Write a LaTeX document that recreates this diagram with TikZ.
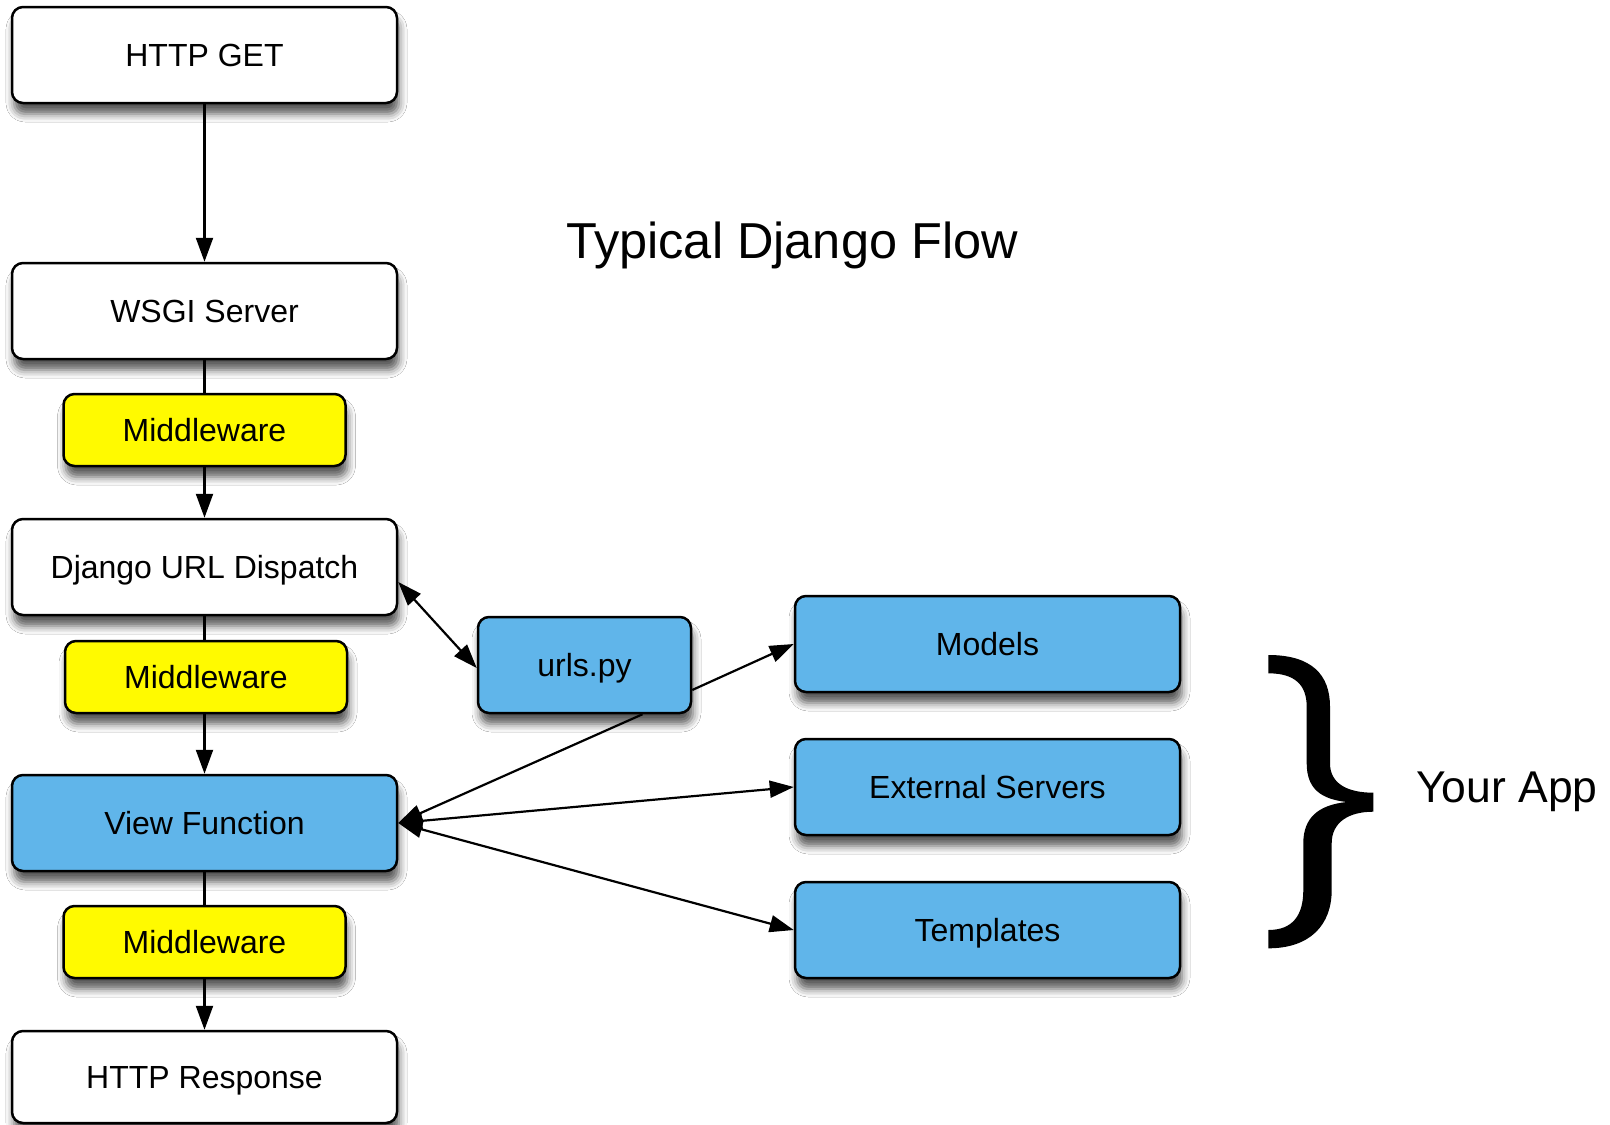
\documentclass[tikz,border=0pt]{standalone}
\usepackage{fontspec}
\setmainfont{Liberation Sans}
\usetikzlibrary{arrows.meta,shadows.blur}
\definecolor{boxblue}{RGB}{96,181,234}
\definecolor{boxyellow}{RGB}{255,250,0}
\tikzset{
  basebox/.style={draw=black, line width=2.5pt, rounded corners=11pt, inner sep=0pt,
    text height=23pt, text depth=0pt, align=center,
    font=\fontsize{32}{38}\selectfont,
    blur shadow={shadow xshift=2pt, shadow yshift=-11pt, shadow blur radius=8pt, shadow opacity=65}},
  bigbox/.style={basebox, minimum width=385pt, minimum height=96pt},
  whitebox/.style={bigbox, fill=white},
  bluebox/.style={bigbox, fill=boxblue},
  midbox/.style={basebox, fill=boxyellow, minimum width=282pt, minimum height=72pt},
  urlbox/.style={basebox, fill=boxblue, minimum width=213pt, minimum height=96pt},
  conn/.style={line width=2.2pt, draw=black},
  arr/.style={conn, -{Triangle[length=24pt,width=17pt]}},
  darr/.style={conn, {Triangle[length=24pt,width=17pt]}-{Triangle[length=24pt,width=17pt]}},
}
\begin{document}
\begin{tikzpicture}[x=1pt, y=-1pt]
\useasboundingbox (0,0) rectangle (1610,1125);
\fill[white] (0,0) rectangle (1610,1125);

% left column
\node[whitebox] (get) at (204.5,55) {HTTP GET};
\node[whitebox] (wsgi) at (204.5,311) {WSGI Server};
\node[midbox] (mw1) at (204.5,430) {Middleware};
\node[whitebox] (dispatch) at (204.5,567) {Django URL Dispatch};
\node[midbox] (mw2) at (206,677) {Middleware};
\node[bluebox] (view) at (204.5,823) {View Function};
\node[midbox] (mw3) at (204.5,942) {Middleware};
\node[whitebox, minimum height=92pt] (resp) at (204.5,1077) {HTTP Response};

% middle and right
\node[urlbox] (urls) at (584.5,665) {urls.py};
\node[bluebox] (models) at (987.5,644) {Models};
\node[bluebox] (ext) at (987.5,787) {External Servers};
\node[bluebox] (tmpl) at (987.5,930) {Templates};

% titles
\node[anchor=base, inner sep=0pt, font=\fontsize{50.5}{60}\selectfont] (title) at (792,258) {Typical Django Flow};
\node[anchor=base west, inner sep=0pt, font=\fontsize{44.5}{52}\selectfont] (yourapp) at (1416,802) {Your App};

% vertical connectors
\draw[arr] (get.south) -- (wsgi.north);
\draw[conn] (wsgi.south) -- (mw1.north -| wsgi.south);
\draw[arr] (mw1.south) -- (dispatch.north);
\draw[conn] (dispatch.south) -- (mw2.north -| dispatch.south);
\draw[arr] (mw2.south -| view.north) -- (view.north);
\draw[conn] (view.south) -- (mw3.north);
\draw[arr] (mw3.south) -- (resp.north);

% side connectors
\draw[darr] ([yshift=-15pt]dispatch.east) -- ([yshift=-3pt]urls.west);
\draw[arr] ([yshift=-25pt]urls.east) -- (models.west);
\draw[arr] ([xshift=58pt]urls.south) -- (view.east);
\draw[darr] (view.east) -- (ext.west);
\draw[darr] (view.east) -- (tmpl.west);

% brace
\fill[black] (1268.3,655)
  .. controls (1312,655) and (1330,675) .. (1330,706.7)
  -- (1330,763.3)
  .. controls (1330,784) and (1348,792.7) .. (1373.3,792.7)
  -- (1373.3,811.7)
  .. controls (1349,811.7) and (1331.7,822) .. (1331.7,843.3)
  -- (1331.7,890)
  .. controls (1331.7,925) and (1310,948.3) .. (1268.3,948.3)
  -- (1268.3,930)
  .. controls (1293,930) and (1303.3,915) .. (1303.3,890)
  -- (1303.3,843.3)
  .. controls (1303.3,818) and (1318,805) .. (1346.7,802)
  .. controls (1320,799) and (1306.7,788) .. (1306.7,763.3)
  -- (1306.7,706.7)
  .. controls (1306.7,685) and (1295,673.3) .. (1268.3,673.3)
  -- cycle;
\end{tikzpicture}
\end{document}
